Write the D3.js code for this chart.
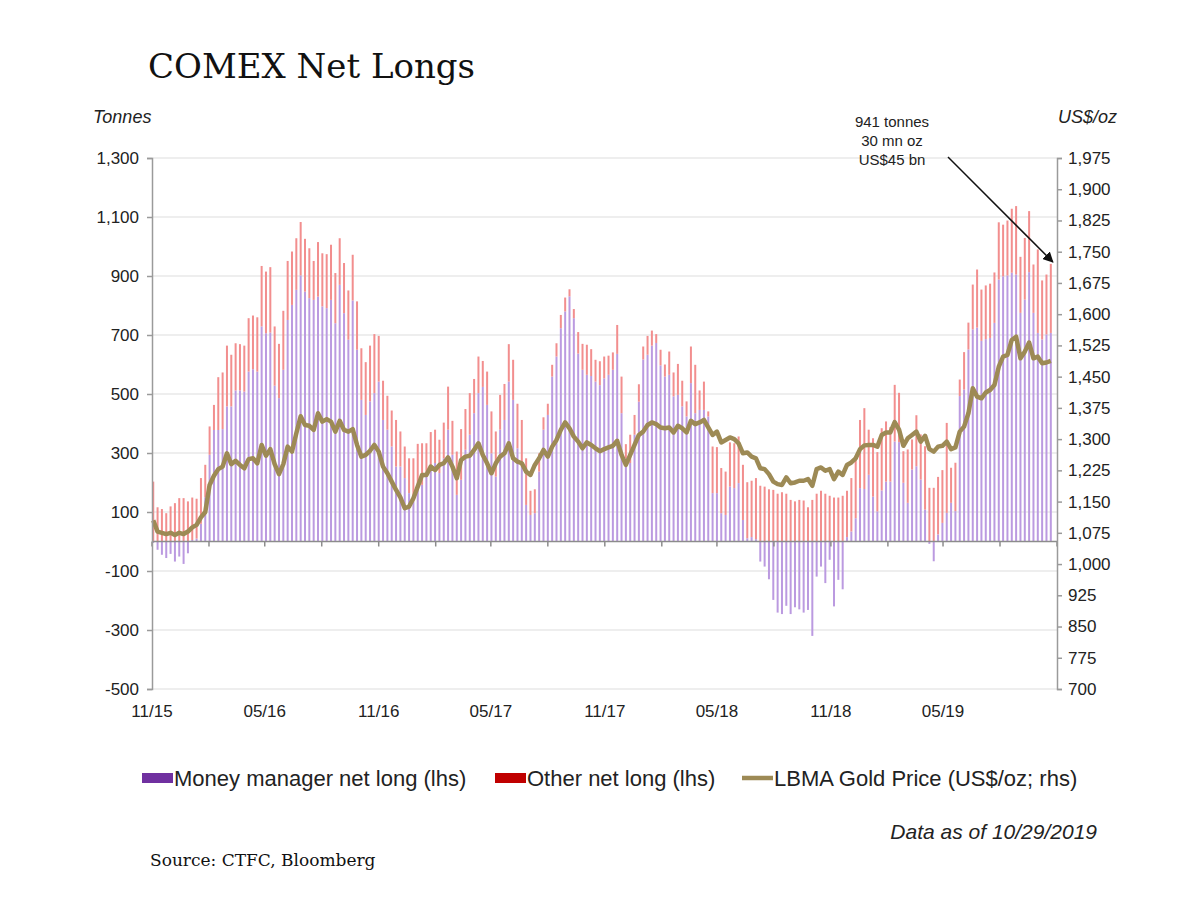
<!DOCTYPE html>
<html>
<head>
<meta charset="utf-8">
<script src="https://cdn.jsdelivr.net/npm/d3@7"></script>
<style>
    body { margin: 0; background: #fff; }
</style>
</head>
<body>
<div id="chart"></div>
<script>
// weekly COT report dates (Tuesdays)
const weeks = d3.timeTuesday.range(new Date(2015, 10, 3), new Date(2019, 9, 23));

// tonnes, money manager net long
const moneyManager = [
    -5, -28, -45, -56, -42, -68, -51, -76, -40, 5, 10, 60, 150, 294, 378, 378, 381, 458, 458, 512,
    512, 508, 576, 584, 576, 729, 706, 708, 528, 486, 582, 751, 802, 853, 902, 847, 825, 819, 830, 797,
    791, 819, 740, 870, 774, 684, 817, 650, 480, 429, 475, 503, 542, 412, 379, 322, 254, 254, 215, 164,
    136, 175, 192, 220, 254, 266, 232, 282, 379, 294, 158, 209, 311, 362, 435, 503, 524, 463, 299, 220,
    379, 412, 542, 480, 316, 254, 124, 90, 96, 237, 379, 429, 559, 627, 723, 780, 831, 757, 637, 582,
    565, 561, 542, 530, 553, 565, 582, 636, 435, 282, 266, 362, 474, 617, 633, 664, 673, 597, 559, 565,
    492, 497, 458, 424, 537, 435, 446, 446, 424, 164, 164, 96, 90, 186, 181, 198, 73, 11, 15, 8,
    -68, -85, -128, -198, -241, -246, -218, -246, -223, -230, -241, -232, -320, -119, -85, -141, -62, -220, -130, -162,
    15, 34, 79, 181, 178, 226, 152, 102, 173, 203, 203, 339, 337, 199, 131, 244, 255, 210, 108, -8,
    -67, 24, 63, 97, 131, 103, 493, 515, 651, 719, 725, 680, 686, 690, 741, 888, 899, 902, 911, 905,
    775, 820, 913, 775, 707, 685, 702, 707
];

// tonnes, other net long
const otherNet = [
    203, 116, 110, 96, 119, 130, 147, 147, 136, 144, 135, 155, 110, 96, 85, 179, 192, 206, 175, 160,
    157, 156, 181, 182, 184, 205, 209, 222, 201, 184, 200, 200, 181, 175, 181, 179, 169, 132, 185, 180,
    183, 187, 170, 158, 170, 167, 155, 164, 175, 179, 189, 200, 155, 133, 115, 122, 158, 119, 107, 118,
    146, 156, 141, 113, 117, 113, 113, 121, 146, 115, 147, 172, 138, 141, 116, 124, 88, 113, 142, 153,
    118, 122, 127, 136, 151, 158, 158, 82, 81, 62, 42, 38, 40, 45, 45, 47, 24, 31, 73, 88,
    102, 91, 74, 81, 74, 65, 59, 98, 124, 48, 96, 67, 59, 44, 64, 51, 30, 53, 41, 79,
    81, 105, 87, 51, 124, 164, 66, 96, 17, 158, 156, 153, 147, 150, 152, 158, 187, 190, 191, 207,
    189, 186, 177, 175, 162, 167, 162, 141, 136, 141, 139, 116, 141, 162, 172, 162, 155, 149, 149, 155,
    157, 181, 209, 231, 274, 153, 198, 201, 211, 204, 185, 192, 167, 107, 181, 102, 173, 153, 215, 182,
    182, 195, 179, 305, 119, 164, 56, 127, 91, 152, 197, 174, 182, 184, 171, 194, 175, 186, 217, 232,
    190, 209, 207, 164, 283, 200, 203, 234
];

// US$/oz, LBMA gold price
const goldPrice = [
    1105, 1078, 1075, 1072, 1075, 1070, 1075, 1072, 1078, 1088, 1094, 1112, 1125, 1190, 1212, 1228, 1234, 1266, 1240, 1248,
    1238, 1230, 1252, 1254, 1242, 1286, 1260, 1276, 1240, 1216, 1240, 1282, 1270, 1314, 1355, 1334, 1332, 1322, 1362, 1342,
    1348, 1342, 1318, 1344, 1322, 1318, 1324, 1286, 1258, 1262, 1272, 1286, 1270, 1234, 1218, 1198, 1178, 1160, 1134, 1138,
    1158, 1186, 1214, 1214, 1234, 1226, 1238, 1242, 1256, 1234, 1206, 1250, 1258, 1260, 1274, 1290, 1262, 1242, 1218, 1242,
    1258, 1266, 1290, 1254, 1246, 1242, 1222, 1214, 1238, 1254, 1274, 1258, 1282, 1298, 1322, 1340, 1326, 1306, 1294, 1278,
    1292, 1286, 1278, 1271, 1276, 1280, 1284, 1296, 1262, 1238, 1262, 1286, 1310, 1318, 1334, 1340, 1336, 1328, 1326, 1328,
    1316, 1332, 1326, 1316, 1344, 1336, 1340, 1346, 1328, 1310, 1318, 1292, 1298, 1304, 1300, 1290, 1266, 1268, 1258, 1254,
    1230, 1228, 1216, 1198, 1192, 1190, 1208, 1194, 1196, 1200, 1200, 1204, 1188, 1228, 1232, 1224, 1228, 1204, 1222, 1214,
    1238, 1244, 1254, 1276, 1285, 1286, 1286, 1282, 1310, 1316, 1316, 1341, 1323, 1284, 1302, 1310, 1318, 1294, 1308, 1276,
    1270, 1282, 1284, 1294, 1276, 1280, 1318, 1330, 1362, 1422, 1402, 1398, 1412, 1418, 1430, 1474, 1498, 1502, 1538, 1546,
    1494, 1510, 1532, 1494, 1498, 1482, 1484, 1488
];

const leftTicks = [-500, -300, -100, 100, 300, 500, 700, 900, 1100, 1300];
const rightTicks = [700, 775, 850, 925, 1000, 1075, 1150, 1225, 1300, 1375, 1450, 1525, 1600, 1675, 1750, 1825, 1900, 1975];
const dateLabels = ['11/15', '05/16', '11/16', '05/17', '11/17', '05/18', '11/18', '05/19'];
const annotationLines = ['941 tonnes', '30 mn oz', 'US$45 bn'];

const purple = '#bb9ae0';
const red = '#f28e8e';
const gold = '#9d8a55';

function buildRows() {
    return weeks.map((d, i) => ({ date: d, mm: moneyManager[i], other: otherNet[i], gold: goldPrice[i] }));
}

function drawChart() {
    const rows = buildRows();
    const width = 1200, height = 900;
    const left = 152, right = 1057, top = 158, bottom = 689;
    const start = new Date(2015, 10, 1);

    const x = d3.scaleTime()
        .domain([start, new Date(2019, 10, 1)])
        .range([left, right]);
    const yL = d3.scaleLinear().domain([-500, 1300]).range([bottom, top]);
    const yR = d3.scaleLinear().domain([700, 1975]).range([bottom, top]);

    const svg = d3.create('svg')
        .attr('width', width)
        .attr('height', height)
        .style('font-family', "'Liberation Sans', Arial, sans-serif");

    // title
    svg.append('text')
        .attr('x', 148).attr('y', 78)
        .style('font-family', "'DejaVu Serif', serif")
        .style('font-size', '34px')
        .attr('fill', '#111')
        .text('COMEX Net Longs');

    // gridlines
    svg.append('g').selectAll('line')
        .data(leftTicks)
        .join('line')
        .attr('x1', left).attr('x2', right)
        .attr('y1', d => yL(d)).attr('y2', d => yL(d))
        .attr('stroke', '#e8e8e8')
        .attr('stroke-width', 1.5);

    // stacked bars: money manager first, other on top (diverging around zero)
    const series = d3.stack()
        .keys(['mm', 'other'])
        .offset(d3.stackOffsetDiverging)(rows);
    const colors = { mm: purple, other: red };

    svg.append('g').selectAll('g')
        .data(series)
        .join('g')
        .attr('fill', s => colors[s.key])
        .selectAll('rect')
        .data(s => s)
        .join('rect')
        .attr('x', d => x(d.data.date) - 1)
        .attr('width', 2)
        .attr('y', d => yL(Math.max(d[0], d[1])))
        .attr('height', d => Math.abs(yL(d[0]) - yL(d[1])));

    // zero line with quarterly ticks
    const quarters = d3.range(0, 17).map(i => d3.timeMonth.offset(start, i * 3));
    const zero = svg.append('g').attr('transform', `translate(0,${yL(0)})`);
    zero.append('line')
        .attr('x1', left).attr('x2', right)
        .attr('stroke', '#8c8c8c').attr('stroke-width', 1.5);
    zero.selectAll('.qt')
        .data(quarters)
        .join('line')
        .attr('x1', d => x(d)).attr('x2', d => x(d))
        .attr('y1', 0).attr('y2', 5)
        .attr('stroke', '#8c8c8c').attr('stroke-width', 1.5);

    // gold price line
    const line = d3.line()
        .x(d => x(d.date))
        .y(d => yR(d.gold));
    svg.append('path')
        .datum(rows)
        .attr('d', line)
        .attr('fill', 'none')
        .attr('stroke', gold)
        .attr('stroke-width', 4.5)
        .attr('stroke-linejoin', 'round');

    // axes
    const fmt = d3.format(',');
    const axisL = svg.append('g')
        .attr('transform', `translate(${left},0)`)
        .call(d3.axisLeft(yL).tickValues(leftTicks).tickSize(5).tickPadding(8)
            .tickFormat(d => fmt(d).replace('\u2212', '-')));
    const axisR = svg.append('g')
        .attr('transform', `translate(${right},0)`)
        .call(d3.axisRight(yR).tickValues(rightTicks).tickSize(5).tickPadding(6)
            .tickFormat(fmt));
    [axisL, axisR].forEach(a => {
        a.select('.domain').attr('stroke', '#9a9a9a').attr('stroke-width', 1.5);
        a.selectAll('.tick line').attr('stroke', '#9a9a9a').attr('stroke-width', 1.5);
        a.selectAll('.tick text')
            .style('font-size', '17px')
            .style('font-family', "'Liberation Sans', Arial, sans-serif")
            .attr('fill', '#222');
    });

    // date labels every six months
    svg.append('g').selectAll('text')
        .data(dateLabels)
        .join('text')
        .attr('x', (d, i) => x(d3.timeMonth.offset(start, i * 6)))
        .attr('y', 717)
        .attr('text-anchor', 'middle')
        .style('font-size', '17px')
        .attr('fill', '#222')
        .text(d => d);

    // axis titles
    svg.append('text')
        .attr('x', 93).attr('y', 123)
        .style('font-size', '18px').style('font-style', 'italic')
        .attr('fill', '#222')
        .text('Tonnes');
    svg.append('text')
        .attr('x', 1117).attr('y', 123)
        .attr('text-anchor', 'end')
        .style('font-size', '18px').style('font-style', 'italic')
        .attr('fill', '#222')
        .text('US$/oz');

    // annotation
    svg.append('g').selectAll('text')
        .data(annotationLines)
        .join('text')
        .attr('x', 892)
        .attr('y', (d, i) => 127 + i * 19)
        .attr('text-anchor', 'middle')
        .style('font-size', '15px')
        .attr('fill', '#222')
        .text(d => d);

    svg.append('defs').append('marker')
        .attr('id', 'arrow')
        .attr('viewBox', '0 0 10 10')
        .attr('refX', 9).attr('refY', 5)
        .attr('markerWidth', 7).attr('markerHeight', 7)
        .attr('orient', 'auto')
        .append('path')
        .attr('d', 'M0,0L10,5L0,10z')
        .attr('fill', '#111');

    const last = rows[rows.length - 1];
    svg.append('line')
        .attr('x1', 948).attr('y1', 157)
        .attr('x2', x(last.date) + 2).attr('y2', yL(last.mm + last.other) - 2)
        .attr('stroke', '#111')
        .attr('stroke-width', 1.5)
        .attr('marker-end', 'url(#arrow)');

    // legend
    const legend = [
        { label: 'Money manager net long (lhs)', color: '#7030a0', type: 'rect', x: 142 },
        { label: 'Other net long (lhs)', color: '#c00000', type: 'rect', x: 495 },
        { label: 'LBMA Gold Price (US$/oz; rhs)', color: gold, type: 'line', x: 742 }
    ];
    const lg = svg.append('g').selectAll('g')
        .data(legend)
        .join('g')
        .attr('transform', d => `translate(${d.x},778)`);
    lg.filter(d => d.type === 'rect').append('rect')
        .attr('x', 0).attr('y', -5).attr('width', 31).attr('height', 10)
        .attr('fill', d => d.color);
    lg.filter(d => d.type === 'line').append('line')
        .attr('x1', 0).attr('x2', 31)
        .attr('stroke', d => d.color).attr('stroke-width', 4.5);
    lg.append('text')
        .attr('x', 32).attr('y', 7.5)
        .style('font-size', '22px')
        .attr('fill', '#222')
        .text(d => d.label);

    svg.append('text')
        .attr('x', 1097).attr('y', 839)
        .attr('text-anchor', 'end')
        .style('font-size', '21px').style('font-style', 'italic')
        .attr('fill', '#222')
        .text('Data as of 10/29/2019');

    svg.append('text')
        .attr('x', 150).attr('y', 866)
        .style('font-family', "'DejaVu Serif', serif")
        .style('font-size', '17px')
        .attr('fill', '#111')
        .text('Source: CTFC, Bloomberg');

    document.getElementById('chart').appendChild(svg.node());
}

drawChart();
</script>
</body>
</html>
